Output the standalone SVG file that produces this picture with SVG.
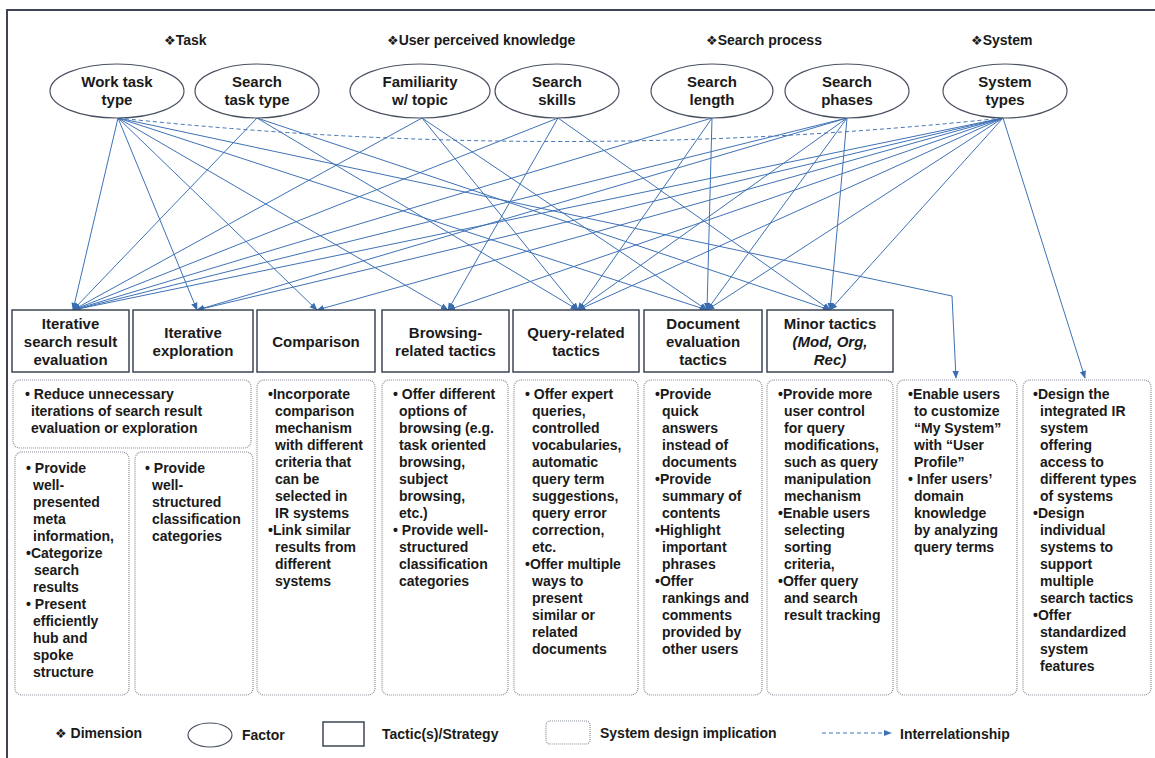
<svg xmlns="http://www.w3.org/2000/svg" width="1155" height="758" viewBox="0 0 1155 758">
<defs>
<marker id="ah" viewBox="0 0 10 10" refX="9" refY="5" markerWidth="8" markerHeight="8" markerUnits="userSpaceOnUse" orient="auto">
<path d="M0,1 L10,5 L0,9 z" fill="#3a6db0"/>
</marker>
<style>
text{font-family:"Liberation Sans",Arial,sans-serif;font-weight:bold;fill:#1a1a1a}
.h{font-size:14px}
.dm{font-family:"DejaVu Sans",sans-serif;font-size:13px;font-weight:normal}
.n{font-size:15px;text-anchor:middle}
.b{font-size:14px}
.it{font-style:italic}
.ell{fill:#fff;stroke:#4a5262;stroke-width:1.2}
.tac{fill:#fff;stroke:#3d4656;stroke-width:1.5}
.imp{fill:#fff;stroke:#8a8f98;stroke-width:1.2;stroke-dasharray:1 1}
.c{fill:none;stroke:#3f72b5;stroke-width:1;marker-end:url(#ah)}
.d{fill:none;stroke:#3f72b5;stroke-width:1;stroke-dasharray:4 3}
</style>
</defs>
<rect width="1155" height="758" fill="#fff"/>
<path d="M7,758 V10 H1155" fill="none" stroke="#3f4452" stroke-width="2"/>

<g id="dimensions">
<text class="h" x="164" y="45"><tspan class="dm">❖</tspan>Task</text>
<text class="h" x="387" y="45"><tspan class="dm">❖</tspan>User perceived knowledge</text>
<text class="h" x="706" y="45"><tspan class="dm">❖</tspan>Search process</text>
<text class="h" x="971" y="45"><tspan class="dm">❖</tspan>System</text>
</g>

<g id="connectors">
<path class="d" d="M118,118 Q560,165 1003,118"/>
<!-- Work task type -->
<path class="c" d="M118,118 L73,310"/>
<path class="c" d="M118,118 L197,310"/>
<path class="c" d="M118,118 L317,310"/>
<path class="c" d="M118,118 L448,310"/>
<path class="c" d="M118,118 L707,310"/>
<path class="c" d="M118,118 L952,296 L956,378"/>
<!-- Search task type -->
<path class="c" d="M257,118 L73,310"/>
<path class="c" d="M257,118 L578,310"/>
<path class="c" d="M257,118 L830,310"/>
<!-- Familiarity -->
<path class="c" d="M422,118 L73,310"/>
<path class="c" d="M422,118 L578,310"/>
<path class="c" d="M422,118 L707,310"/>
<!-- Search skills -->
<path class="c" d="M558,118 L73,310"/>
<path class="c" d="M558,118 L448,310"/>
<path class="c" d="M558,118 L830,310"/>
<!-- Search length -->
<path class="c" d="M712,118 L73,310"/>
<path class="c" d="M712,118 L578,310"/>
<path class="c" d="M712,118 L707,310"/>
<!-- Search phases -->
<path class="c" d="M847,118 L73,310"/>
<path class="c" d="M847,118 L197,310"/>
<path class="c" d="M847,118 L578,310"/>
<path class="c" d="M847,118 L707,310"/>
<path class="c" d="M847,118 L830,310"/>
<!-- System types -->
<path class="c" d="M1003,118 L73,310"/>
<path class="c" d="M1003,118 L197,310"/>
<path class="c" d="M1003,118 L317,310"/>
<path class="c" d="M1003,118 L448,310"/>
<path class="c" d="M1003,118 L578,310"/>
<path class="c" d="M1003,118 L707,310"/>
<path class="c" d="M1003,118 L830,310"/>
<path class="c" d="M1003,118 L1085,378"/>
</g>

<g id="f-work"><ellipse class="ell" cx="117" cy="91" rx="67" ry="27"/><text class="n" x="117" y="87">Work task</text><text class="n" x="117" y="105">type</text></g>
<g id="f-stask"><ellipse class="ell" cx="257" cy="91" rx="62" ry="27"/><text class="n" x="257" y="87">Search</text><text class="n" x="257" y="105">task type</text></g>
<g id="f-fam"><ellipse class="ell" cx="420" cy="91" rx="70" ry="27"/><text class="n" x="420" y="87">Familiarity</text><text class="n" x="420" y="105">w/ topic</text></g>
<g id="f-skills"><ellipse class="ell" cx="557" cy="91" rx="62" ry="27"/><text class="n" x="557" y="87">Search</text><text class="n" x="557" y="105">skills</text></g>
<g id="f-length"><ellipse class="ell" cx="712" cy="91" rx="61" ry="27"/><text class="n" x="712" y="87">Search</text><text class="n" x="712" y="105">length</text></g>
<g id="f-phases"><ellipse class="ell" cx="847" cy="91" rx="62" ry="27"/><text class="n" x="847" y="87">Search</text><text class="n" x="847" y="105">phases</text></g>
<g id="f-system"><ellipse class="ell" cx="1005" cy="91" rx="62" ry="27"/><text class="n" x="1005" y="87">System</text><text class="n" x="1005" y="105">types</text></g>

<g id="t-iter-eval"><rect class="tac" x="12" y="310" width="117" height="62"/><text class="n" x="70.5" y="329">Iterative</text><text class="n" x="70.5" y="347">search result</text><text class="n" x="70.5" y="365">evaluation</text></g>
<g id="t-iter-exp"><rect class="tac" x="133" y="310" width="120" height="62"/><text class="n" x="193" y="338">Iterative</text><text class="n" x="193" y="356">exploration</text></g>
<g id="t-comp"><rect class="tac" x="257" y="310" width="118" height="62"/><text class="n" x="316" y="347">Comparison</text></g>
<g id="t-browse"><rect class="tac" x="382" y="310" width="127" height="62"/><text class="n" x="445.5" y="338">Browsing-</text><text class="n" x="445.5" y="356">related tactics</text></g>
<g id="t-query"><rect class="tac" x="513" y="310" width="126" height="62"/><text class="n" x="576" y="338">Query-related</text><text class="n" x="576" y="356">tactics</text></g>
<g id="t-doc"><rect class="tac" x="644" y="310" width="118" height="62"/><text class="n" x="703" y="329">Document</text><text class="n" x="703" y="347">evaluation</text><text class="n" x="703" y="365">tactics</text></g>
<g id="t-minor"><rect class="tac" x="767" y="310" width="126" height="62"/><text class="n" x="830" y="329">Minor tactics</text><text class="n it" x="830" y="347">(Mod, Org,</text><text class="n it" x="830" y="365">Rec)</text></g>

<g id="i-reduce"><rect class="imp" x="13" y="380" width="238" height="68" rx="7"/>
<text class="b" x="25" y="399">• Reduce unnecessary</text><text class="b" x="31" y="416">iterations of search result</text><text class="b" x="31" y="433">evaluation or exploration</text></g>

<g id="i-meta"><rect class="imp" x="15" y="452" width="114" height="243" rx="7"/>
<text class="b" x="26" y="473">• Provide</text><text class="b" x="33" y="490">well-</text><text class="b" x="33" y="507">presented</text><text class="b" x="33" y="524">meta</text><text class="b" x="33" y="541">information,</text><text class="b" x="26" y="558">•Categorize</text><text class="b" x="34" y="575">search</text><text class="b" x="33" y="592">results</text><text class="b" x="26" y="609">• Present</text><text class="b" x="33" y="626">efficiently</text><text class="b" x="33" y="643">hub and</text><text class="b" x="33" y="660">spoke</text><text class="b" x="33" y="677">structure</text></g>

<g id="i-class"><rect class="imp" x="135" y="452" width="118" height="243" rx="7"/>
<text class="b" x="145" y="473">• Provide</text><text class="b" x="152" y="490">well-</text><text class="b" x="152" y="507">structured</text><text class="b" x="152" y="524">classification</text><text class="b" x="152" y="541">categories</text></g>

<g id="i-comp"><rect class="imp" x="257" y="380" width="118" height="315" rx="7"/>
<text class="b" x="268" y="399">•Incorporate</text><text class="b" x="275" y="416">comparison</text><text class="b" x="275" y="433">mechanism</text><text class="b" x="275" y="450">with different</text><text class="b" x="275" y="467">criteria that</text><text class="b" x="275" y="484">can be</text><text class="b" x="275" y="501">selected in</text><text class="b" x="275" y="518">IR systems</text><text class="b" x="268" y="535">•Link similar</text><text class="b" x="275" y="552">results from</text><text class="b" x="275" y="569">different</text><text class="b" x="275" y="586">systems</text></g>

<g id="i-browse"><rect class="imp" x="382" y="380" width="126" height="315" rx="7"/>
<text class="b" x="393" y="399">• Offer different</text><text class="b" x="399" y="416">options of</text><text class="b" x="399" y="433">browsing (e.g.</text><text class="b" x="399" y="450">task oriented</text><text class="b" x="399" y="467">browsing,</text><text class="b" x="399" y="484">subject</text><text class="b" x="399" y="501">browsing,</text><text class="b" x="399" y="518">etc.)</text><text class="b" x="393" y="535">• Provide well-</text><text class="b" x="399" y="552">structured</text><text class="b" x="399" y="569">classification</text><text class="b" x="399" y="586">categories</text></g>

<g id="i-query"><rect class="imp" x="514" y="380" width="124" height="315" rx="7"/>
<text class="b" x="525" y="399">• Offer expert</text><text class="b" x="532" y="416">queries,</text><text class="b" x="532" y="433">controlled</text><text class="b" x="532" y="450">vocabularies,</text><text class="b" x="532" y="467">automatic</text><text class="b" x="532" y="484">query term</text><text class="b" x="532" y="501">suggestions,</text><text class="b" x="532" y="518">query error</text><text class="b" x="532" y="535">correction,</text><text class="b" x="532" y="552">etc.</text><text class="b" x="525" y="569">•Offer multiple</text><text class="b" x="532" y="586">ways to</text><text class="b" x="532" y="603">present</text><text class="b" x="532" y="620">similar or</text><text class="b" x="532" y="637">related</text><text class="b" x="532" y="654">documents</text></g>

<g id="i-doc"><rect class="imp" x="644" y="380" width="118" height="315" rx="7"/>
<text class="b" x="655" y="399">•Provide</text><text class="b" x="662" y="416">quick</text><text class="b" x="662" y="433">answers</text><text class="b" x="662" y="450">instead of</text><text class="b" x="662" y="467">documents</text><text class="b" x="655" y="484">•Provide</text><text class="b" x="662" y="501">summary of</text><text class="b" x="662" y="518">contents</text><text class="b" x="655" y="535">•Highlight</text><text class="b" x="662" y="552">important</text><text class="b" x="662" y="569">phrases</text><text class="b" x="655" y="586">•Offer</text><text class="b" x="662" y="603">rankings and</text><text class="b" x="662" y="620">comments</text><text class="b" x="662" y="637">provided by</text><text class="b" x="662" y="654">other users</text></g>

<g id="i-minor"><rect class="imp" x="767" y="380" width="126" height="315" rx="7"/>
<text class="b" x="778" y="399">•Provide more</text><text class="b" x="784" y="416">user control</text><text class="b" x="784" y="433">for query</text><text class="b" x="784" y="450">modifications,</text><text class="b" x="784" y="467">such as query</text><text class="b" x="784" y="484">manipulation</text><text class="b" x="784" y="501">mechanism</text><text class="b" x="778" y="518">•Enable users</text><text class="b" x="784" y="535">selecting</text><text class="b" x="784" y="552">sorting</text><text class="b" x="784" y="569">criteria,</text><text class="b" x="778" y="586">•Offer query</text><text class="b" x="784" y="603">and search</text><text class="b" x="784" y="620">result tracking</text></g>

<g id="i-profile"><rect class="imp" x="897" y="380" width="120" height="315" rx="7"/>
<text class="b" x="908" y="399">•Enable users</text><text class="b" x="914" y="416">to customize</text><text class="b" x="914" y="433">“My System”</text><text class="b" x="914" y="450">with “User</text><text class="b" x="914" y="467">Profile”</text><text class="b" x="908" y="484">• Infer users’</text><text class="b" x="914" y="501">domain</text><text class="b" x="914" y="518">knowledge</text><text class="b" x="914" y="535">by analyzing</text><text class="b" x="914" y="552">query terms</text></g>

<g id="i-design"><rect class="imp" x="1023" y="380" width="128" height="315" rx="7"/>
<text class="b" x="1033" y="399">•Design the</text><text class="b" x="1040" y="416">integrated  IR</text><text class="b" x="1040" y="433">system</text><text class="b" x="1040" y="450">offering</text><text class="b" x="1040" y="467">access to</text><text class="b" x="1040" y="484">different types</text><text class="b" x="1040" y="501">of systems</text><text class="b" x="1033" y="518">•Design</text><text class="b" x="1040" y="535">individual</text><text class="b" x="1040" y="552">systems to</text><text class="b" x="1040" y="569">support</text><text class="b" x="1040" y="586">multiple</text><text class="b" x="1040" y="603">search tactics</text><text class="b" x="1033" y="620">•Offer</text><text class="b" x="1040" y="637">standardized</text><text class="b" x="1040" y="654">system</text><text class="b" x="1040" y="671">features</text></g>

<g id="legend">
<text class="h" x="55" y="738"><tspan class="dm">❖</tspan> Dimension</text>
<ellipse class="ell" cx="210" cy="735" rx="22" ry="12"/>
<text class="h" x="242" y="740">Factor</text>
<rect class="tac" x="323" y="722" width="41" height="24" stroke-width="1.2"/>
<text class="h" x="382" y="739">Tactic(s)/Strategy</text>
<rect class="imp" x="546" y="721" width="44" height="23" rx="4"/>
<text class="h" x="600" y="738">System design implication</text>
<line class="d" x1="822" y1="733" x2="886" y2="733" stroke-dasharray="3 2"/>
<path d="M884,730 L892,733 L884,736 z" fill="#3f72b5"/>
<text class="h" x="900" y="739">Interrelationship</text>
</g>
</svg>
